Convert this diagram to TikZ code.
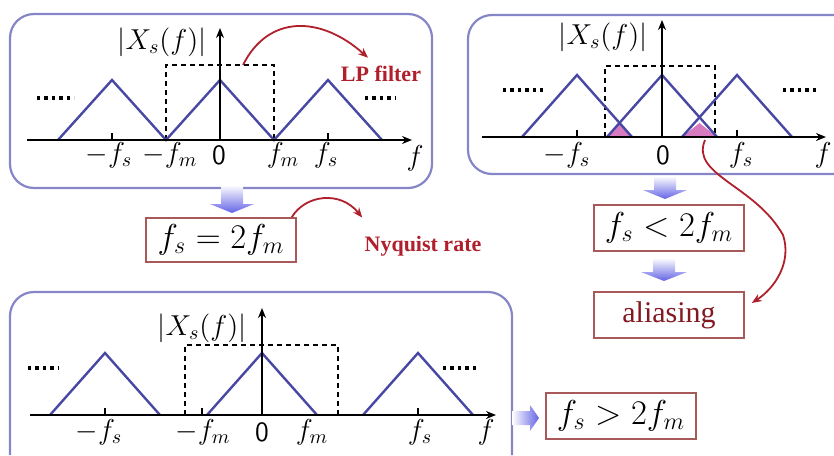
\documentclass[tikz,border=0pt]{standalone}
\usepackage{fontspec}
\setmainfont{Liberation Serif}
\usetikzlibrary{arrows.meta,calc}
\definecolor{pborder}{HTML}{8585C8}
\definecolor{ftri}{HTML}{4848A4}
\definecolor{fpink}{HTML}{D77BC0}
\definecolor{fred}{HTML}{B0202C}
\definecolor{fbox}{HTML}{A85A5A}
\definecolor{fblue}{HTML}{6464E6}
\tikzset{
  panel/.style    = {draw=pborder, line width=1.1pt, rounded corners=12pt},
  spectrum/.style = {draw=ftri, line width=1.2pt},
  alias/.style    = {fill=fpink},
  axisline/.style = {line width=1.2pt, -{Stealth[length=5pt,width=4pt]}},
  lpfbox/.style   = {line width=0.7pt, dash pattern=on 2.5pt off 2pt},
  tick/.style     = {line width=0.6pt},
  dots/.style     = {line width=1.7pt, dash pattern=on 1.7pt off 2pt},
  lbl/.style      = {font=\fontsize{14}{16}\selectfont, inner sep=1pt},
  condbox/.style  = {draw=fbox, line width=0.8pt, minimum width=75pt,
                     minimum height=23pt, font=\fontsize{17}{19}\selectfont},
  note/.style     = {text=fred, font=\fontsize{11}{13}\selectfont\bfseries,
                     inner sep=1pt},
  remark/.style   = {draw=fred, line width=0.9pt,
                     -{Stealth[length=5pt,width=4pt]}},
  blkdown/.style  = {top color=white, bottom color=fblue},
  blkright/.style = {left color=white, right color=fblue},
}
\begin{document}
\begin{tikzpicture}[x=0.5pt, y=-0.5pt]
\useasboundingbox (0,0) rectangle (834,455);
% ---- panel 1: critical sampling ----
\draw[panel] (10,14) rectangle (432,188);
\draw[lpfbox] (166,140) -- (166,65) -- (274,65) -- (274,140);
\draw[spectrum] (58,140) -- (112,80) -- (166,140) -- (220,80) -- (274,140)
                -- (328,80) -- (382,140);
\draw[axisline] (27,140) -- (412,140);
\draw[axisline] (220,140) -- (220,28);
\draw[tick] (112,140) -- (112,133);
\draw[tick] (328,140) -- (328,133);
\draw[dots] (37,98) -- (74,98);
\draw[dots] (365,98) -- (396,98);
\node[lbl] (xa) at (162,42) {$|X_s(f)|$};
\node[lbl] (fsna) at (109,155) {$-f_s$};
\node[lbl] (fmna) at (170,155) {$-f_m$};
\node[lbl] (za)   at (219,155) {\textsf{0}};
\node[lbl] (fmpa) at (283,155) {$f_m$};
\node[lbl] (fspa) at (326,155) {$f_s$};
\node[lbl] (fa)   at (415,158) {$f$};
\coordinate (lpstart) at (243,65);
\node[note] (lp) at (381,74) {LP filter};
\draw[remark] (lpstart) .. controls (268,15) and (320,15) .. ($(lp.north)+(-13,-6)$);
% ---- fs = 2fm ----
\shade[blkdown] (221,185) -- (243,185) -- (243,204) -- (254,204) -- (232,213)
                -- (210,204) -- (221,204) -- cycle;
\node[condbox, minimum height=18.5pt] (eq) at (221,240) {$f_s=2f_m$};
\node[note] (nq) at (423,246) {Nyquist rate};
\draw[remark] ($(eq.north east)+(-5,0)$) .. controls (305,195) and (340,190)
              .. ($(nq.north west)+(0,-16)$);
% ---- panel 2: undersampling ----
\draw[panel] (834,15) -- (468,15) -- (468,174) -- (834,174);
\fill[alias] (607,137) -- (619.5,123) -- (632,137) -- cycle;
\fill[alias] (682,137) -- (699.5,123) -- (717,137) -- cycle;
\draw[lpfbox] (605,137) -- (605,66) -- (715,66) -- (715,137);
\draw[spectrum] (522,137) -- (577,75) -- (632,137);
\draw[spectrum] (607,137) -- (662,75) -- (717,137);
\draw[spectrum] (682,137) -- (737,75) -- (792,137);
\draw[axisline] (482,137) -- (826,137);
\draw[axisline] (662,137) -- (662,20);
\draw[tick] (577,137) -- (577,130);
\draw[tick] (737,137) -- (737,130);
\draw[dots] (503,90) -- (543,90);
\draw[dots] (783,90) -- (816,90);
\node[lbl] (xb) at (603,37) {$|X_s(f)|$};
\node[lbl] (fsnb) at (567,155) {$-f_s$};
\node[lbl] (zb)   at (663,155) {\textsf{0}};
\node[lbl] (fspb) at (741,155) {$f_s$};
\node[lbl, anchor=east] (fb) at (834,155) {$f$};
\shade[blkdown] (654,176) -- (676,176) -- (676,190) -- (687,190) -- (665,199)
                -- (643,190) -- (654,190) -- cycle;
\node[condbox] (lt) at (669,228) {$f_s<2f_m$};
\shade[blkdown] (653,258) -- (675,258) -- (675,272) -- (687,272) -- (664,281)
                -- (641,272) -- (653,272) -- cycle;
\node[condbox, text=fred!75!black, font=\fontsize{15}{17}\selectfont] (al)
     at (669,315) {aliasing};
\coordinate (alstart) at (705,140);
\draw[remark] (alstart) .. controls (690,175) and (755,185) .. (783,235)
              .. controls (792,262) and (775,288) .. ($(al.east)+(7,-12)$);
% ---- panel 3: oversampling ----
\draw[panel] (10,455) -- (10,292) -- (512,292) -- (512,455);
\draw[lpfbox] (185,415) -- (185,345) -- (338,345) -- (338,415);
\draw[spectrum] (50,415) -- (105,353) -- (160,415);
\draw[spectrum] (207,415) -- (262,353) -- (317,415);
\draw[spectrum] (363,415) -- (418,353) -- (473,415);
\draw[axisline] (30,415) -- (496,415);
\draw[axisline] (262,415) -- (262,308);
\draw[tick] (105,415) -- (105,408);
\draw[tick] (202,415) -- (202,408);
\draw[tick] (418,415) -- (418,408);
\draw[dots] (28,368) -- (58,368);
\draw[dots] (443,368) -- (479,368);
\node[lbl] (xc) at (202,328) {$|X_s(f)|$};
\node[lbl] (fsnc) at (99,432) {$-f_s$};
\node[lbl] (fmnc) at (203,432) {$-f_m$};
\node[lbl] (zc)   at (262,432) {\textsf{0}};
\node[lbl] (fmpc) at (312,432) {$f_m$};
\node[lbl] (fspc) at (420,432) {$f_s$};
\node[lbl] (fc)   at (486,432) {$f$};
\shade[blkright] (512,411) -- (530,411) -- (530,405) -- (539,418) -- (530,431)
                 -- (530,425) -- (512,425) -- cycle;
\node[condbox] (gt) at (621,416) {$f_s>2f_m$};
\end{tikzpicture}
\end{document}
